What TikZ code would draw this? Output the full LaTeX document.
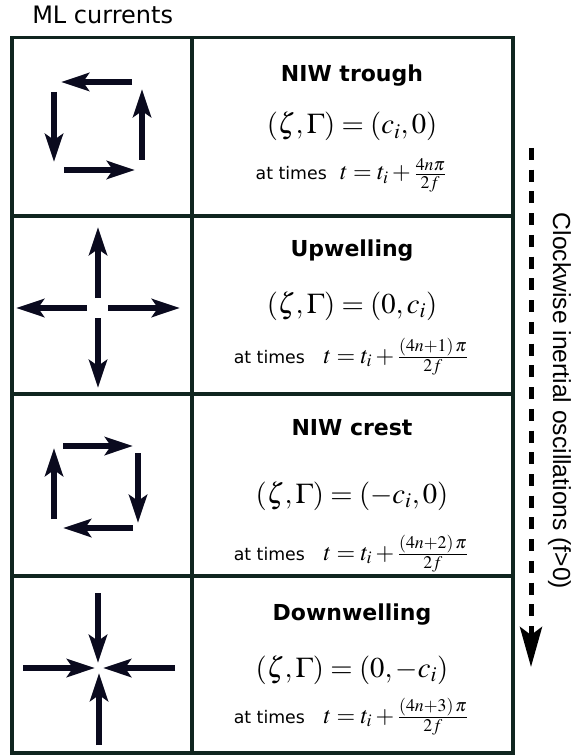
\documentclass[tikz,border=0pt]{standalone}
\usepackage{mathptmx}
\usepackage[no-math]{fontspec}
\setmainfont{DejaVu Sans}
\newfontfamily\sidefont{Liberation Sans}
\usetikzlibrary{arrows.meta}
\definecolor{gridline}{HTML}{10251F}
\definecolor{currentink}{HTML}{0A0A1E}

\begin{document}
\begin{tikzpicture}[
  x=0.75pt, y=-0.75pt,
  grid/.style={draw=gridline, line width=2.4pt},
  current/.style={draw=currentink, line width=5pt, -{Stealth[length=21pt, width=13.5pt, inset=4.5pt]}},
  title/.style={font=\fontsize{16.5}{19}\selectfont\bfseries, anchor=base, inner sep=0pt},
  eqn/.style={font=\fontsize{21.5}{24}\selectfont, anchor=base, inner sep=0pt},
  when/.style={font=\fontsize{13}{15}\selectfont, anchor=base, inner sep=0pt},
  cw/.style={line width=3.75pt, dash pattern=on 9pt off 7.3pt, -{Stealth[length=30pt, width=16.5pt, inset=6pt]}}
]
\useasboundingbox (0,0) rectangle (572,755);

\node[anchor=base west, inner sep=0pt, font=\fontsize{18}{20}\selectfont] (header) at (32,24) {ML currents};

% table
\draw[grid] (12,37.5) rectangle (513,753);
\draw[grid] (192,37.5) -- (192,753);
\draw[grid] (12,216) -- (513,216);
\draw[grid] (12,394) -- (513,394);
\draw[grid] (12,576) -- (513,576);

% NIW trough
\draw[current] (132,82) -- (61,82);
\draw[current] (54,92) -- (54,162);
\draw[current] (64,170) -- (135,170);
\draw[current] (142,160) -- (142,89);
\node[title] (trough) at (352,82) {NIW trough};
\node[eqn] (trougheq) at (352,134) {$(\zeta,\Gamma)=(c_i,0)$};
\node[when] (troughwhen) at (351,180) {at times\hspace{10pt}{\fontsize{18}{20}\selectfont$t=t_i+\frac{4n\pi}{2f}$}};

% Upwelling
\draw[current] (98,298) -- (98,227);
\draw[current] (87,308) -- (16,308);
\draw[current] (108,308) -- (180,308);
\draw[current] (98,318) -- (98,388);
\node[title] (upwell) at (352,257) {Upwelling};
\node[eqn] (upwelleq) at (352,313) {$(\zeta,\Gamma)=(0,c_i)$};
\node[when] (upwellwhen) at (351,363) {at times\hspace{14pt}{\fontsize{18}{20}\selectfont$t=t_i+\frac{(4n+1)\,\pi}{2f}$}};

% NIW crest
\draw[current] (63,446) -- (133,446);
\draw[current] (138,453) -- (138,523);
\draw[current] (133,528) -- (63,528);
\draw[current] (54,519) -- (54,448);
\node[title] (crest) at (352,435) {NIW crest};
\node[eqn] (cresteq) at (352,503) {$(\zeta,\Gamma)=(-c_i,0)$};
\node[when] (crestwhen) at (351,560) {at times\hspace{14pt}{\fontsize{18}{20}\selectfont$t=t_i+\frac{(4n+2)\,\pi}{2f}$}};

% Downwelling
\draw[current] (98,593) -- (98,663);
\draw[current] (23,668) -- (95,668);
\draw[current] (175,668) -- (103,668);
\draw[current] (99,745) -- (99,673);
\node[title] (downwell) at (352,620) {Downwelling};
\node[eqn] (downwelleq) at (352,677) {$(\zeta,\Gamma)=(0,-c_i)$};
\node[when] (downwellwhen) at (351,723) {at times\hspace{14pt}{\fontsize{18}{20}\selectfont$t=t_i+\frac{(4n+3)\,\pi}{2f}$}};

% inertial rotation
\coordinate (cwtop) at (531,148);
\coordinate (cwend) at (531,667);
\draw[cw] (cwtop) -- (cwend);
\node[rotate=-90, inner sep=0pt, font=\sidefont\fontsize{18.5}{20}\selectfont] (cwlabel) at (559.5,401) {Clockwise inertial oscillations (f>0)};
\end{tikzpicture}
\end{document}
